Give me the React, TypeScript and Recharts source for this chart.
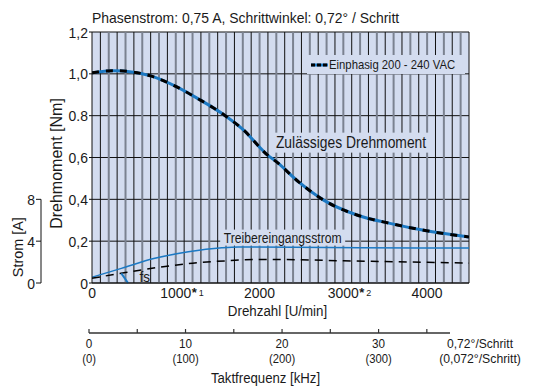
import React from 'react';
import { LineChart, Line, XAxis, YAxis, CartesianGrid, ReferenceDot, Legend } from 'recharts';

const FONT = '"Liberation Sans", Arial, Helvetica, sans-serif';
const TEXT = '#1a1a1a';
const BG = '#d3dcef';
const BLUE = '#1c79c3';

// ---- data ----
const torqueRpm = [0, 250, 500, 700, 1000, 1270, 1590, 1800, 2100, 2200, 2470, 2770, 3170, 3570, 3960, 4500];
const torqueNm = [1.005, 1.015, 1.008, 0.99, 0.94, 0.88, 0.8, 0.735, 0.61, 0.58, 0.482, 0.395, 0.324, 0.284, 0.252, 0.22];

const inputRpm = [0, 350, 750, 1150, 1550, 1750, 2400, 3200, 4500];
const inputA = [0.55, 1.4, 2.36, 2.98, 3.36, 3.44, 3.42, 3.36, 3.34];

const phaseRpm = [0, 400, 800, 1200, 1600, 2000, 2500, 3000, 3500, 4000, 4500];
const phaseA = [0.45, 1.0, 1.5, 1.9, 2.12, 2.25, 2.22, 2.12, 2.05, 1.98, 1.9];

const fsRpm = [350, 430];
const fsA = [0.92, 0];

const rpmTicks = [0, 1000, 2000, 3000, 4000];
const rpmTickLabels = ['0', '1000', '2000', '3000', '4000'];
const rpmTickNotes = ['', '1', '', '2', ''];
const nmTicks = [0, 0.2, 0.4, 0.6, 0.8, 1.0, 1.2];
const nmTickLabels = ['0', '0,2', '0,4', '0,6', '0.8', '1,0', '1,2'];
const stromTicks = [0, 4, 8];
const gridRpm = [100, 200, 300, 400, 500, 600, 700, 800, 900, 1000, 1100, 1200, 1300, 1400, 1500, 1600, 1700, 1800, 1900, 2000, 2100, 2200, 2300, 2400, 2500, 2600, 2700, 2800, 2900, 3000, 3100, 3200, 3300, 3400, 3500, 3600, 3700, 3800, 3900, 4000, 4100, 4200, 4300, 4400, 4500];
const freqTicks = [0, 5, 10, 15, 20, 25, 30, 35];
const freqLabelAt = [0, 10, 20, 30];
const freqLabels = ['0', '10', '20', '30'];
const freqLabels2 = ['(0)', '(100)', '(200)', '(300)'];

const TITLE = 'Phasenstrom: 0,75 A, Schrittwinkel: 0,72° / Schritt';
const SERIES_NAME = 'Einphasig 200 - 240 VAC';

const torqueData = torqueRpm.map((r, i) => ({ rpm: r, nm: torqueNm[i] }));
const inputData = inputRpm.map((r, i) => ({ rpm: r, a: inputA[i] }));
const phaseData = phaseRpm.map((r, i) => ({ rpm: r, a: phaseA[i] }));
const fsData = fsRpm.map((r, i) => ({ rpm: r, a: fsA[i] }));
const freqData = [{ f: 0 }, { f: 37.4 }];

// ---- layout ----
const W = 544;
const H = 387;
const M = { top: 32, right: 75, bottom: 64, left: 0 };
const XAXIS_H = 40;
const PLOT_H = H - M.top - M.bottom - XAXIS_H;

// condensed text helper (no narrow font installed)
const NText = (props: any) => {
  const { x, y, size, anchor = 'start', sx = 0.88, rotate = 0, weight, dy, children } = props;
  const tr = `translate(${x} ${y})${rotate ? ` rotate(${rotate})` : ''} scale(${sx} 1)`;
  return (
    <g transform={tr}>
      <text x={0} y={0} dy={dy} textAnchor={anchor} fontSize={size} fontFamily={FONT} fill={TEXT} fontWeight={weight}>
        {children}
      </text>
    </g>
  );
};

const NmTick = (props: any) => {
  const { x, y, payload } = props;
  return (
    <NText x={x} y={y} dy="0.36em" anchor="end" size={15.5} sx={0.9}>
      {nmTickLabels[nmTicks.indexOf(payload.value)]}
    </NText>
  );
};

const StromTick = (props: any) => {
  const { x, y, payload } = props;
  const v = payload.value;
  const seg = (PLOT_H / 24) * 4;
  return (
    <g>
      <line x1={x - 5} x2={x} y1={y} y2={y} stroke="#111" />
      {v > 0 && <line x1={x} x2={x} y1={y} y2={y + seg} stroke="#111" />}
      <NText x={x - 6} y={y} dy="0.36em" anchor="end" size={15.5} sx={0.9}>
        {v}
      </NText>
      {v === 4 && (
        <NText x={x - 23} y={y + 6} dy="0.36em" anchor="middle" size={15} sx={0.96} rotate={-90}>
          Strom [A]
        </NText>
      )}
    </g>
  );
};

const RpmTick = (props: any) => {
  const { x, y, payload } = props;
  const i = rpmTicks.indexOf(payload.value);
  return (
    <g>
      <NText x={x} y={y} dy="0.71em" anchor="middle" size={15.5} sx={0.9}>
        {rpmTickLabels[i]}
      </NText>
      {rpmTickNotes[i] && (
        <g transform={`translate(${x + 16} ${y + 10})`}>
          <text x={0} y={0} fontSize={13} fontWeight="bold" fontFamily={FONT} fill={TEXT}>
            *
          </text>
          <text x={7} y={-1} fontSize={9} fontFamily={FONT} fill={TEXT}>
            {rpmTickNotes[i]}
          </text>
        </g>
      )}
    </g>
  );
};

const FreqTick = (props: any) => {
  const { x, y, payload } = props;
  const i = freqLabelAt.indexOf(payload.value);
  return (
    <g>
      <line x1={x} x2={x} y1={y - 4} y2={y} stroke="#333" strokeWidth={1.2} />
      {i >= 0 && (
        <>
          <NText x={x} y={y + 15} anchor="middle" size={13} sx={0.9}>
            {freqLabels[i]}
          </NText>
          <NText x={x} y={y + 29.5} anchor="middle" size={12.5} sx={0.9}>
            {freqLabels2[i]}
          </NText>
        </>
      )}
    </g>
  );
};

const FreqAxisLabel = (props: any) => {
  const vb = props.viewBox;
  const right = vb.x + vb.width;
  return (
    <g>
      <NText x={right + 30} y={vb.y + 15} anchor="middle" size={13} sx={0.93}>
        0,72°/Schritt
      </NText>
      <NText x={right + 30} y={vb.y + 29.5} anchor="middle" size={12.5} sx={0.98}>
        (0,072°/Schritt)
      </NText>
      <NText x={vb.x + vb.width / 2 - 4} y={vb.y + 50} anchor="middle" size={15} sx={0.88}>
        Taktfrequenz [kHz]
      </NText>
    </g>
  );
};

const RpmAxisLabel = (props: any) => {
  const vb = props.viewBox;
  return (
    <NText x={vb.x + vb.width / 2 - 3} y={vb.y + 33} anchor="middle" size={15} sx={0.89}>
      Drehzahl [U/min]
    </NText>
  );
};

const NmAxisLabel = (props: any) => {
  const vb = props.viewBox;
  const cx = vb.x + 15;
  const cy = vb.y + vb.height / 2 + 6;
  return (
    <NText x={cx} y={cy} dy="0.36em" anchor="middle" size={16} sx={1} rotate={-90}>
      Drehmoment [Nm]
    </NText>
  );
};

const BoxLabel = (props: any) => {
  const { viewBox, text, w, h, fs, sx, bg } = props;
  const cx = viewBox.x + viewBox.width / 2;
  const cy = viewBox.y + viewBox.height / 2;
  return (
    <g>
      {bg && <rect x={cx - w / 2} y={cy - h / 2} width={w} height={h} fill={BG} />}
      <NText x={cx} y={cy} dy="0.36em" anchor="middle" size={fs} sx={sx}>
        {text}
      </NText>
    </g>
  );
};

const LegendBox = () => (
  <div
    style={{
      background: BG,
      width: 158,
      height: 19,
      display: 'flex',
      alignItems: 'center',
      fontFamily: FONT,
      fontSize: 13,
      color: TEXT,
      boxSizing: 'border-box',
      paddingLeft: 4,
      whiteSpace: 'nowrap',
      overflow: 'visible',
    }}
  >
    <svg width={17} height={6} style={{ marginRight: 1, flex: 'none' }}>
      <line x1={0} x2={17} y1={3} y2={3} stroke={BLUE} strokeWidth={3} />
      <line x1={0} x2={17} y1={3} y2={3} stroke="#000" strokeWidth={3} strokeDasharray="4 2" />
    </svg>
    <span style={{ display: 'inline-block', transform: 'scaleX(0.87)', transformOrigin: 'left center' }}>
      {SERIES_NAME}
    </span>
  </div>
);

const gridLine = (p: any) => (
  <line
    key={p.key}
    x1={p.x1}
    x2={p.x2}
    y1={p.y1}
    y2={p.y2}
    stroke={p.index % 2 === 0 ? '#111' : '#7b8290'}
    strokeWidth={p.index % 2 === 0 ? 1 : 2}
  />
);

export default function App() {
  return (
    <div style={{ position: 'absolute', left: 0, top: 0, width: W, height: H }}>
      <div style={{ position: 'absolute', left: 0, top: 0 }}>
        <LineChart width={W} height={H} margin={M}>
          <CartesianGrid
            yAxisId="nm"
            fill={BG}
            fillOpacity={1}
            stroke="#111"
            strokeWidth={1}
            verticalValues={gridRpm}
            vertical={gridLine}
          />
          <XAxis
            dataKey="rpm"
            type="number"
            domain={[0, 4500]}
            allowDataOverflow
            ticks={rpmTicks}
            interval={0}
            height={XAXIS_H}
            tickLine={false}
            tickSize={0}
            tickMargin={4}
            axisLine={{ stroke: '#111' }}
            tick={<RpmTick />}
            label={<RpmAxisLabel />}
          />
          <YAxis
            yAxisId="nm"
            type="number"
            domain={[0, 1.2]}
            ticks={nmTicks}
            interval={0}
            width={51}
            tickSize={3}
            tickMargin={1}
            tickLine={{ stroke: '#111' }}
            axisLine={{ stroke: '#111' }}
            tick={<NmTick />}
            label={<NmAxisLabel />}
          />
          <YAxis
            yAxisId="strom"
            type="number"
            domain={[0, 24]}
            ticks={stromTicks}
            interval={0}
            width={41}
            tickSize={0}
            tickMargin={0}
            tickLine={false}
            axisLine={false}
            tick={<StromTick />}
          />
          <Legend
            verticalAlign="middle"
            align="center"
            layout="horizontal"
            wrapperStyle={{ left: 307, top: 55, width: 158, height: 19 }}
            content={<LegendBox />}
          />
          <Line
            yAxisId="strom"
            data={inputData}
            dataKey="a"
            type="monotone"
            stroke={BLUE}
            strokeWidth={1.5}
            dot={false}
            isAnimationActive={false}
            legendType="none"
          />
          <Line
            yAxisId="strom"
            data={phaseData}
            dataKey="a"
            type="monotone"
            stroke="#000"
            strokeWidth={1.5}
            strokeDasharray="8 6"
            dot={false}
            isAnimationActive={false}
            legendType="none"
          />
          <Line
            yAxisId="strom"
            data={fsData}
            dataKey="a"
            type="linear"
            stroke={BLUE}
            strokeWidth={2}
            dot={false}
            isAnimationActive={false}
            legendType="none"
          />
          <Line
            yAxisId="nm"
            data={torqueData}
            dataKey="nm"
            type="monotone"
            stroke={BLUE}
            strokeWidth={3}
            dot={false}
            isAnimationActive={false}
            name={SERIES_NAME}
          />
          <Line
            yAxisId="nm"
            data={torqueData}
            dataKey="nm"
            type="monotone"
            stroke="#000"
            strokeWidth={3}
            strokeDasharray="7 7"
            dot={false}
            isAnimationActive={false}
            legendType="none"
          />
          <ReferenceDot
            yAxisId="nm"
            x={3092}
            y={0.671}
            r={1}
            fill="none"
            stroke="none"
            label={<BoxLabel text="Zulässiges Drehmoment" w={156} h={20} fs={16} sx={0.867} bg />}
          />
          <ReferenceDot
            yAxisId="nm"
            x={2276}
            y={0.217}
            r={1}
            fill="none"
            stroke="none"
            label={<BoxLabel text="Treibereingangsstrom" w={125} h={16} fs={14} sx={0.87} bg />}
          />
          <ReferenceDot
            yAxisId="nm"
            x={630}
            y={0.03}
            r={1}
            fill="none"
            stroke="none"
            label={<BoxLabel text="fs" w={12} h={12} fs={15} sx={0.9} />}
          />
        </LineChart>
      </div>
      <div style={{ position: 'absolute', left: 0, top: 0, pointerEvents: 'none' }}>
        <LineChart width={W} height={H} data={freqData} margin={{ top: 300, right: 94, bottom: 0, left: 89 }}>
          <XAxis
            dataKey="f"
            type="number"
            domain={[0, 37.4]}
            ticks={freqTicks}
            interval={0}
            height={54}
            tickSize={0}
            tickMargin={0}
            tickLine={false}
            axisLine={{ stroke: '#333', strokeWidth: 1.5 }}
            tick={<FreqTick />}
            label={<FreqAxisLabel />}
          />
        </LineChart>
      </div>
      <div
        style={{
          position: 'absolute',
          left: 92,
          top: 10,
          fontFamily: FONT,
          fontSize: 15,
          lineHeight: '15px',
          color: TEXT,
          whiteSpace: 'nowrap',
          transform: 'scaleX(0.93)',
          transformOrigin: 'left top',
          pointerEvents: 'none',
        }}
      >
        {TITLE}
      </div>
    </div>
  );
}
